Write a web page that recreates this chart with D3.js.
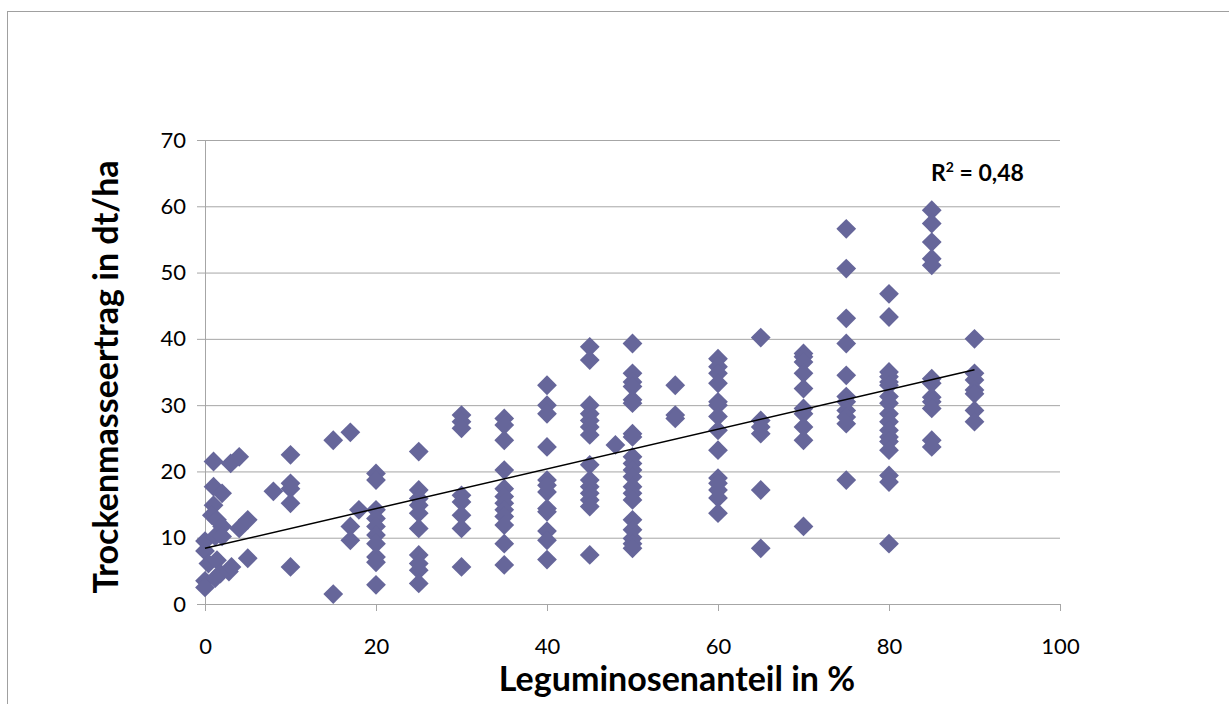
<!DOCTYPE html>
<html>
<head>
<meta charset="utf-8">
<script src="https://cdn.jsdelivr.net/npm/d3@7"></script>
<style>
  html, body { margin: 0; padding: 0; background: #fff; }
  svg { display: block; font-family: Lato, "Open Sans", sans-serif; }
</style>
</head>
<body>
<div id="chart"></div>
<script>
// Leguminosenanteil (%) and matching Trockenmasseertrag (dt/ha)
const legumeShare = [
  0, 0, 0, 0, 0.4,
  1, 1, 1, 0.8, 1.4, 1.2, 1.4, 1.2,
  2, 2, 2, 1.8, 2.8, 3.1,
  3, 4, 4, 5, 5, 8,
  10, 10, 10, 10, 10,
  15, 15, 17, 17, 17, 18,
  20, 20, 20, 20, 20, 20, 20, 20, 20, 20,
  25, 25, 25, 25, 25, 25, 25, 25, 25, 25,
  30, 30, 30, 30, 30, 30, 30, 30,
  35, 35, 35, 35, 35, 35, 35, 35, 35, 35, 35, 35,
  40, 40, 40, 40, 40, 40, 40, 40, 40, 40, 40, 40,
  45, 45, 45, 45, 45, 45, 45, 45, 45, 45, 45, 45, 45, 45,
  48,
  50, 50, 50, 50, 50, 50, 50, 50, 50, 50, 50, 50, 50, 50, 50, 50, 50, 50, 50, 50,
  55, 55, 55,
  60, 60, 60, 60, 60, 60, 60, 60, 60, 60, 60, 60, 60, 60,
  65, 65, 65, 65, 65, 65,
  70, 70, 70, 70, 70, 70, 70, 70, 70, 70,
  75, 75, 75, 75, 75, 75, 75, 75, 75, 75, 75,
  80, 80, 80, 80, 80, 80, 80, 80, 80, 80, 80, 80, 80, 80, 80, 80, 80,
  85, 85, 85, 85, 85, 85, 85, 85, 85, 85, 85, 85,
  90, 90, 90, 90, 90, 90, 90
];
const dryMatterYield = [
  9.5, 8.0, 3.5, 2.5, 6.1,
  21.5, 17.7, 14.9, 13.4, 12.7, 10.2, 6.6, 3.9,
  16.7, 11.7, 10.2, 4.6, 4.9, 5.6,
  21.2, 22.2, 11.4, 12.7, 6.9, 17.0,
  22.5, 18.2, 17.4, 15.2, 5.6,
  24.7, 1.5, 25.9, 11.7, 9.6, 14.2,
  19.7, 18.7, 14.2, 12.9, 11.7, 10.4, 9.1, 7.1, 6.3, 2.9,
  23.0, 17.2, 15.9, 14.9, 13.7, 11.4, 7.4, 6.1, 5.1, 3.1,
  28.5, 27.5, 26.5, 16.4, 15.4, 13.4, 11.4, 5.6,
  28.0, 27.0, 24.7, 20.2, 17.4, 16.2, 15.2, 14.2, 13.2, 11.9, 9.1, 5.9,
  33.0, 30.0, 28.7, 23.7, 18.7, 17.9, 16.9, 14.4, 13.9, 11.0, 9.6, 6.7,
  38.8, 36.8, 30.0, 28.7, 27.7, 26.7, 25.5, 21.0, 18.7, 17.7, 16.7, 15.7, 14.7, 7.4,
  24.0,
  39.3, 34.8, 33.5, 32.8, 30.8, 30.3, 25.7, 25.2, 22.2, 21.2, 20.2, 19.2, 17.7, 16.7, 15.7, 12.7, 11.2, 9.9, 9.1, 8.4,
  33.0, 28.5, 28.0,
  37.0, 35.8, 34.8, 33.3, 30.5, 30.0, 28.3, 26.2, 23.2, 19.0, 18.2, 17.2, 16.0, 13.7,
  40.2, 27.7, 26.7, 25.7, 17.2, 8.4,
  37.8, 37.3, 36.5, 34.8, 32.5, 29.5, 28.7, 26.7, 24.7, 11.7,
  56.6, 50.6, 43.1, 39.3, 34.5, 31.3, 30.5, 29.2, 28.2, 27.2, 18.7,
  46.8, 43.3, 35.0, 34.3, 33.5, 33.0, 31.3, 30.3, 28.7, 27.5, 26.2, 25.2, 24.5, 23.2, 19.4, 18.4, 9.1,
  59.4, 57.4, 54.6, 52.1, 51.1, 34.0, 33.3, 31.2, 30.5, 29.5, 24.7, 23.7,
  40.0, 34.8, 33.8, 32.3, 31.7, 29.2, 27.5
];
const xTicks = [0, 20, 40, 60, 80, 100];
const yTicks = [0, 10, 20, 30, 40, 50, 60, 70];
const rSquaredLabel = '0,48';

const width = 1229, height = 704;
const margin = {top: 140, right: 169, bottom: 100, left: 205};
const gridColor = '#a6a6a6';
const markColor = '#66669a';

const svg = d3.select('#chart').append('svg')
  .attr('width', width)
  .attr('height', height);

// chart frame, its right and bottom edges fall outside the picture
svg.append('rect')
  .attr('x', 7.5).attr('y', 11.5)
  .attr('width', 1240).attr('height', 720)
  .attr('fill', '#fff')
  .attr('stroke', '#a0a0a0');

const x = d3.scaleLinear().domain([0, 100]).range([margin.left, width - margin.right]);
const y = d3.scaleLinear().domain([0, 70]).range([height - margin.bottom, margin.top]);

// horizontal grid + left ticks
const yAxis = svg.append('g')
  .attr('transform', `translate(${margin.left},0)`)
  .call(d3.axisLeft(y).tickValues(yTicks).tickSize(8).tickPadding(11))
  .call(g => g.select('.domain').attr('stroke', gridColor));
yAxis.selectAll('.tick line').attr('stroke', gridColor);
yAxis.selectAll('.tick')
  .append('line')
  .attr('x1', 0).attr('x2', x(100) - margin.left)
  .attr('stroke', gridColor);
yAxis.selectAll('.tick text')
  .attr('fill', '#000')
  .style('font-size', '22px')
  .style('font-family', 'Lato, sans-serif');

const xAxis = svg.append('g')
  .attr('transform', `translate(0,${y(0)})`)
  .call(d3.axisBottom(x).tickValues(xTicks).tickSize(7).tickPadding(27))
  .call(g => g.select('.domain').attr('stroke', gridColor));
xAxis.selectAll('.tick line').attr('stroke', gridColor);
xAxis.selectAll('.tick text')
  .attr('fill', '#000')
  .style('font-size', '22px')
  .style('font-family', 'Lato, sans-serif');

// points
const points = legumeShare.map((v, i) => [v, dryMatterYield[i]]);
svg.append('g')
  .selectAll('path')
  .data(points)
  .join('path')
  .attr('d', d3.symbol(d3.symbolSquare, 196))
  .attr('transform', d => `translate(${x(d[0])},${y(d[1])}) rotate(45)`)
  .attr('fill', markColor);

// linear trend line (least squares)
const meanX = d3.mean(legumeShare), meanY = d3.mean(dryMatterYield);
const slope = d3.sum(points, d => (d[0] - meanX) * (d[1] - meanY)) /
  d3.sum(points, d => (d[0] - meanX) ** 2);
const intercept = meanY - slope * meanX;
const xMax = d3.max(legumeShare);
svg.append('line')
  .attr('x1', x(0)).attr('y1', y(intercept))
  .attr('x2', x(xMax)).attr('y2', y(intercept + slope * xMax))
  .attr('stroke', '#000')
  .attr('stroke-width', 1.5);

const r2 = svg.append('text')
  .attr('x', 931).attr('y', 181)
  .style('font-size', '23px')
  .style('font-weight', 'bold');
r2.append('tspan').text('R');
r2.append('tspan').attr('dy', -9).style('font-size', '14px').text('2');
r2.append('tspan').attr('dy', 9).text(` = ${rSquaredLabel}`);

// axis titles
svg.append('text')
  .attr('x', 677).attr('y', 691)
  .attr('text-anchor', 'middle')
  .style('font-size', '34px')
  .style('font-weight', 'bold')
  .text('Leguminosenanteil in %');

svg.append('text')
  .attr('transform', 'translate(118,377) rotate(-90)')
  .attr('text-anchor', 'middle')
  .style('font-size', '34px')
  .style('font-weight', 'bold')
  .text('Trockenmasseertrag in dt/ha');
</script>
</body>
</html>
